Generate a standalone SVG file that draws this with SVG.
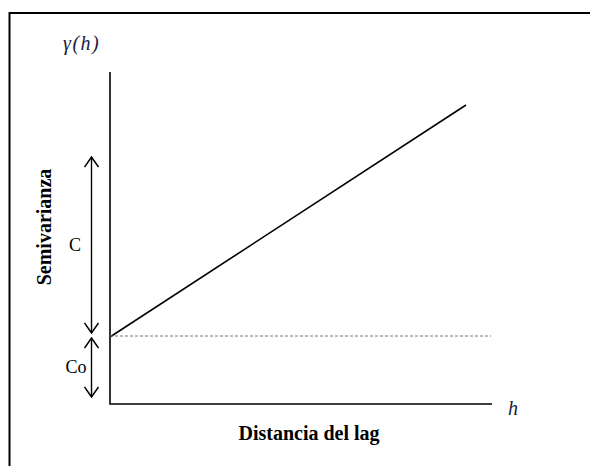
<svg xmlns="http://www.w3.org/2000/svg" width="590" height="466" viewBox="0 0 590 466">
<defs>
<style>
.ax{stroke:#000;stroke-width:1.6;fill:none}
</style>
<marker id="v" viewBox="0 0 12 16" refX="11" refY="8" markerWidth="12" markerHeight="16" markerUnits="userSpaceOnUse" orient="auto-start-reverse">
<path d="M1,1 L11,8 L1,15" fill="none" stroke="#000" stroke-width="1.5"/>
</marker>
</defs>
<rect x="0" y="0" width="590" height="466" fill="#fff"/>
<path d="M9.5,480 V13 H600" fill="none" stroke="#000" stroke-width="2"/>
<g id="connectors">
<path class="ax" d="M110,72 V404 H492"/>
<path d="M110,337 L466,105" stroke="#000" stroke-width="1.6" fill="none"/>
<path d="M110,336 H491" stroke="#777" stroke-width="1" stroke-dasharray="3,2" fill="none"/>
<path d="M91.5,157 V333" stroke="#000" stroke-width="1.4" fill="none" marker-start="url(#v)" marker-end="url(#v)"/>
<path d="M91.5,338 V397" stroke="#000" stroke-width="1.4" fill="none" marker-start="url(#v)" marker-end="url(#v)"/>
</g>
<g id="gamma"><text font-family="Liberation Serif, serif" font-style="italic" x="63" y="50" font-size="20" letter-spacing="1.5" fill="#1a1a40">γ(h)</text></g>
<g id="hlabel"><text font-family="Liberation Serif, serif" font-style="italic" x="508" y="415" font-size="20" fill="#1a1a40">h</text></g>
<g id="ylabel"><text font-family="Liberation Serif, serif" font-weight="bold" font-size="20" text-anchor="middle" x="0" y="0" transform="translate(51,227) rotate(-90)">Semivarianza</text></g>
<g id="xlabel"><text font-family="Liberation Serif, serif" font-weight="bold" font-size="20" text-anchor="middle" x="309" y="440">Distancia del lag</text></g>
<g id="c"><text font-family="Liberation Serif, serif" font-size="18" text-anchor="middle" x="75" y="251">C</text></g>
<g id="co"><text font-family="Liberation Serif, serif" font-size="18" text-anchor="middle" x="76" y="373">Co</text></g>
</svg>
